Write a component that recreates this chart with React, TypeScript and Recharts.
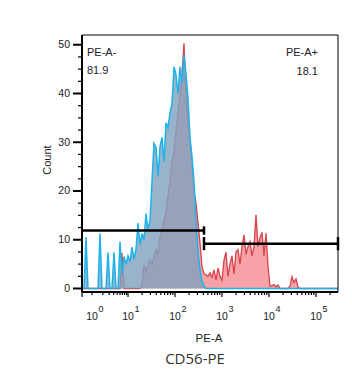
import { AreaChart, Area, XAxis, YAxis, ReferenceLine } from 'recharts'

// histogram bins, 2 channels wide, channel 0 .. 256
const binWidth = 2
const isotypeCounts = [
  0, 0, 10.5, 0, 0, 0, 0, 0, 0, 11.3, 0, 0, 0, 7.4, 0, 0, 7.4, 0, 0, 9.6,
  3, 6.5, 5, 6.7, 5.5, 8.5, 6, 8, 13.4, 9, 11.3, 10, 15.3, 12, 14, 22, 29.8, 29, 23, 29,
  31, 26, 34, 33, 36, 38, 45.5, 43.8, 40, 45.5, 42, 47.9, 44, 39, 31, 27, 22, 14, 7.5, 3.8,
  1.5, 0.5, 0, 0, 0, 0, 0, 0, 0, 0, 0, 0, 0, 0, 0, 0, 0, 0, 0, 0,
  0, 0, 0, 0, 0, 0, 0, 0, 0, 0, 0, 0, 0, 0, 0, 0, 0, 0, 0, 0,
  0, 0, 0, 0, 0, 0, 0, 0, 0, 0, 0, 0, 0, 0, 0, 0, 0, 0, 0, 0,
  0, 0, 0, 0, 0, 0, 0, 0, 0,
]
const cd56Counts = [
  0, 0, 0, 0, 0, 0, 0, 0, 0, 0, 0, 0, 0, 0, 0, 0, 0, 0, 0, 0,
  7.3, 0, 0, 0, 0, 0, 0, 0, 0, 0, 1, 4.8, 3.5, 5, 5.8, 5, 6.5, 8, 7, 10.6,
  12, 14, 15.5, 18.8, 22, 26, 28, 32, 36, 40, 44, 50.3, 40, 34, 30.5, 25.7, 20, 17.5, 13.5, 9.3,
  4.5, 3, 2.8, 2.5, 3.2, 2.3, 3.8, 1.7, 4.2, 2.5, 1.7, 5.8, 7.5, 2.5, 5, 6.7, 3, 7.5, 8, 5,
  8.6, 11, 7, 8.6, 9.6, 6.7, 8.6, 15.1, 8.6, 10.4, 11.5, 6.7, 11.3, 4.5, 0.5, 0.6, 0.8, 0.3, 0.7, 0,
  0, 0, 0, 0, 0.5, 2.4, 1.2, 2, 0.3, 0, 0, 0, 0, 0, 0, 0, 0, 0, 0, 0,
  0, 0, 0, 0, 0, 0, 0, 0, 0,
]

// logicle axis: channel of each decade label 10^0 .. 10^5
const decadeExponents = ['0', '1', '2', '3', '4', '5']
const decadeChannels = [10, 46, 93, 140, 187, 234]
const countMajorTicks = [0, 10, 20, 30, 40, 50]

// gates
const negGate = { from: 0, to: 122, y: 11.9, cap: 0.85 }
const posGate = { from: 122, to: 256, y: 9.2, cap: 1.35 }
const negStats = ['PE-A-', '81.9']
const posStats = ['PE-A+', '18.1']

const xMax = 256
const yDomain: [number, number] = [-0.72, 52]

const isotypeData = isotypeCounts.map((c, i) => ({ x: i * binWidth, y: c }))
const cd56Data = cd56Counts.map((c, i) => ({ x: i * binWidth, y: c }))

const xTicks: number[] = [0]
decadeChannels.forEach((ch, k) => {
  xTicks.push(ch)
  const next = k < decadeChannels.length - 1 ? decadeChannels[k + 1] : ch + (ch - decadeChannels[k - 1])
  for (let m = 2; m <= 9; m++) {
    const t = ch + (next - ch) * Math.log10(m)
    if (t <= xMax) xTicks.push(Math.round(t * 10) / 10)
  }
})

const yTicks: number[] = []
for (let v = 0; v <= 50; v += 2.5) yTicks.push(v)

const font = '"Liberation Sans", Arial, sans-serif'

const XTick = (props: any) => {
  const { x, y, payload } = props
  const k = decadeChannels.indexOf(payload.value)
  const long = k > 0 || payload.value === 0
  return (
    <g>
      <line x1={x} x2={x} y1={y} y2={y + (long ? 5 : 3)} stroke="#000" strokeWidth={1.2} />
      {k >= 0 && (
        <>
          <text x={x} y={y + 27.5} textAnchor="middle" fontSize={10.5} fontFamily={font} fill="#1a1a1a">10</text>
          <text x={x + 6.5} y={y + 19.5} fontSize={9} fontFamily={font} fill="#1a1a1a">{decadeExponents[k]}</text>
        </>
      )}
    </g>
  )
}

const YTick = (props: any) => {
  const { x, y, payload } = props
  const major = countMajorTicks.includes(payload.value)
  return (
    <g>
      <line x1={x} x2={x - (major ? 9 : 4)} y1={y} y2={y} stroke="#000" strokeWidth={major ? 2 : 1.2} />
      {major && (
        <text x={x - 12} y={y + 3.5} textAnchor="end" fontSize={10.5} fontFamily={font} fill="#1a1a1a">
          {payload.value}
        </text>
      )}
    </g>
  )
}

export default function App() {
  return (
    <div style={{ position: 'absolute', left: 0, top: 0, width: 352, height: 372, background: '#fff' }}>
      <AreaChart width={352} height={372} margin={{ top: 35, right: 14, bottom: 50, left: 42 }}>
        <XAxis
          dataKey="x"
          type="number"
          domain={[0, xMax]}
          ticks={xTicks}
          interval={0}
          tick={<XTick />}
          tickLine={false}
          tickSize={0}
          tickMargin={0}
          height={30}
          axisLine={{ stroke: '#000', strokeWidth: 2 }}
        />
        <YAxis
          type="number"
          domain={yDomain}
          ticks={yTicks}
          interval={0}
          tick={<YTick />}
          tickLine={false}
          tickSize={0}
          tickMargin={0}
          width={40}
          axisLine={{ stroke: '#000', strokeWidth: 2 }}
        />
        <Area
          data={cd56Data}
          dataKey="y"
          type="linear"
          stroke="#d8434c"
          strokeWidth={1.3}
          fill="#f7a2a6"
          fillOpacity={1}
          dot={false}
          isAnimationActive={false}
        />
        <Area
          data={isotypeData}
          dataKey="y"
          type="linear"
          stroke="#1cb3ea"
          strokeWidth={1.5}
          fill="#81a2be"
          fillOpacity={0.82}
          dot={false}
          isAnimationActive={false}
        />
        <ReferenceLine y={yDomain[1]} stroke="#000" strokeWidth={1} />
        <ReferenceLine x={xMax} stroke="#000" strokeWidth={1} />
        <ReferenceLine segment={[{ x: negGate.from, y: negGate.y }, { x: negGate.to, y: negGate.y }]} stroke="#000" strokeWidth={2.5} />
        <ReferenceLine segment={[{ x: negGate.to, y: negGate.y - negGate.cap }, { x: negGate.to, y: negGate.y + negGate.cap }]} stroke="#000" strokeWidth={2.5} />
        <ReferenceLine segment={[{ x: posGate.from, y: posGate.y }, { x: posGate.to, y: posGate.y }]} stroke="#000" strokeWidth={2.5} />
        <ReferenceLine segment={[{ x: posGate.from, y: posGate.y - posGate.cap }, { x: posGate.from, y: posGate.y + posGate.cap }]} stroke="#000" strokeWidth={2.5} />
        <ReferenceLine segment={[{ x: posGate.to, y: posGate.y - posGate.cap }, { x: posGate.to, y: posGate.y + posGate.cap }]} stroke="#000" strokeWidth={2.5} />
      </AreaChart>
      <svg width={352} height={372} style={{ position: 'absolute', left: 0, top: 0, pointerEvents: 'none' }}>
        <text x={87} y={56} fontSize={11} fontFamily={font} fill="#222">{negStats[0]}</text>
        <text x={87} y={74} fontSize={11} fontFamily={font} fill="#222">{negStats[1]}</text>
        <text x={318} y={56} textAnchor="end" fontSize={11} fontFamily={font} fill="#222">{posStats[0]}</text>
        <text x={318} y={75} textAnchor="end" fontSize={11} fontFamily={font} fill="#222">{posStats[1]}</text>
        <text x={51} y={160} textAnchor="middle" transform="rotate(-90 51 160)" fontSize={11} fontFamily={font} fill="#222">Count</text>
        <text x={209} y={342} textAnchor="middle" fontSize={11.5} fontFamily={font} fill="#222">PE-A</text>
        <text x={195} y={364} textAnchor="middle" fontSize={15} fontFamily='"Open Sans", "Noto Sans", sans-serif' fill="#333">CD56-PE</text>
      </svg>
    </div>
  )
}
